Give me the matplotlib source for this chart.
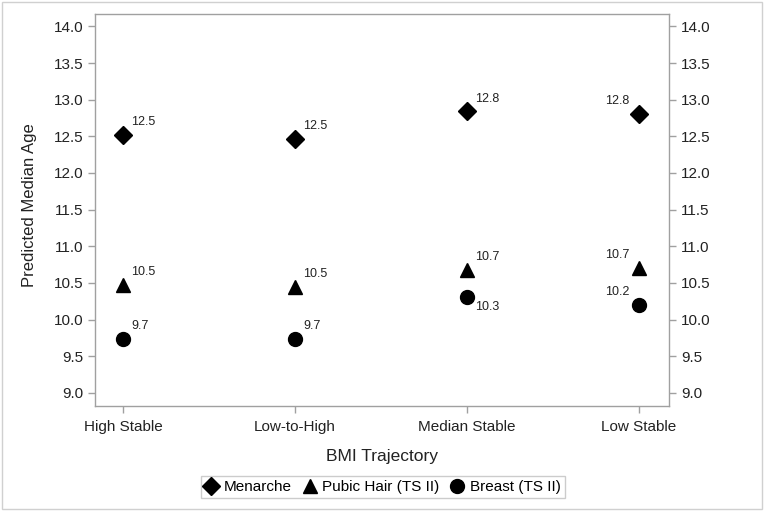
import matplotlib
matplotlib.use("Agg")
import matplotlib.pyplot as plt
from matplotlib.patches import Rectangle

plt.rcParams['font.family'] = ['Liberation Sans', 'DejaVu Sans']

categories = ["High Stable", "Low-to-High", "Median Stable", "Low Stable"]
menarche = [12.52, 12.47, 12.84, 12.80]
pubic_hair = [10.47, 10.45, 10.68, 10.71]
breast = [9.74, 9.74, 10.31, 10.20]
menarche_lbl = ["12.5", "12.5", "12.8", "12.8"]
pubic_lbl = ["10.5", "10.5", "10.7", "10.7"]
breast_lbl = ["9.7", "9.7", "10.3", "10.2"]
yticks = [9.0, 9.5, 10.0, 10.5, 11.0, 11.5, 12.0, 12.5, 13.0, 13.5, 14.0]

fig = plt.figure(figsize=(7.64, 5.11), dpi=100)
ax = fig.add_axes([95/764, (511-406)/511, 574/764, 392/511])

x = list(range(len(categories)))
h1, = ax.plot(x, menarche, linestyle='none', marker='D', color='black', markersize=9, label='Menarche')
h2, = ax.plot(x, pubic_hair, linestyle='none', marker='^', color='black', markersize=10, label='Pubic Hair (TS II)')
h3, = ax.plot(x, breast, linestyle='none', marker='o', color='black', markersize=10, label='Breast (TS II)')

# label offsets (points): upper right by default
offs_m = [(6, 5, 'left'), (6, 5, 'left'), (6, 5, 'left'), (-7, 5, 'right')]
offs_p = [(6, 5, 'left'), (6, 5, 'left'), (6, 5, 'left'), (-7, 5, 'right')]
offs_b = [(6, 5, 'left'), (6, 5, 'left'), (6, -12, 'left'), (-7, 5, 'right')]
for data, lbls, offs in [(menarche, menarche_lbl, offs_m), (pubic_hair, pubic_lbl, offs_p), (breast, breast_lbl, offs_b)]:
    for xi, yi, t, (dx, dy, ha) in zip(x, data, lbls, offs):
        ax.annotate(t, (xi, yi), xytext=(dx, dy), textcoords='offset points',
                    ha=ha, va='bottom', fontsize=9, color='#222222')

ax.set_xlim(-0.163, 3.174)
ax.set_ylim(8.82, 14.17)
ax.set_xticks(x)
ax.set_xticklabels(categories, fontsize=11, color='#222222')
ax.set_yticks(yticks)
ax.set_yticklabels([f"{v:.1f}" for v in yticks], fontsize=11, color='#222222')
ax.tick_params(axis='both', direction='out', length=5, color='#a0a0a0', width=1)
ax.tick_params(axis='x', pad=5)
ax.tick_params(axis='y', which='both', right=True, labelright=True)
for s in ax.spines.values():
    s.set_color('#a0a0a0')
    s.set_linewidth(1)

ax.set_ylabel("Predicted Median Age", fontsize=12, color='#222222')
ax.yaxis.set_label_coords((37 - 95) / 574, 0.513)
ax.set_xlabel("BMI Trajectory", fontsize=12.5, color='#222222', labelpad=11)

leg = fig.legend(handles=[h1, h2, h3], loc='center', bbox_to_anchor=(383/764, 1-487/511),
                 ncol=3, frameon=True, fancybox=False, fontsize=11, handlelength=0.8,
                 handletextpad=0.45, columnspacing=0.75, borderpad=0.25, markerscale=1.0)
leg.get_frame().set_edgecolor('#c0c0c0')
leg.get_frame().set_linewidth(1)

fig.patches.append(Rectangle((2/764, 2/511), 760/764, 507/511, transform=fig.transFigure,
                             fill=False, edgecolor='#d0d0d0', linewidth=1))

fig.savefig("out.png", dpi=100, facecolor='white')
